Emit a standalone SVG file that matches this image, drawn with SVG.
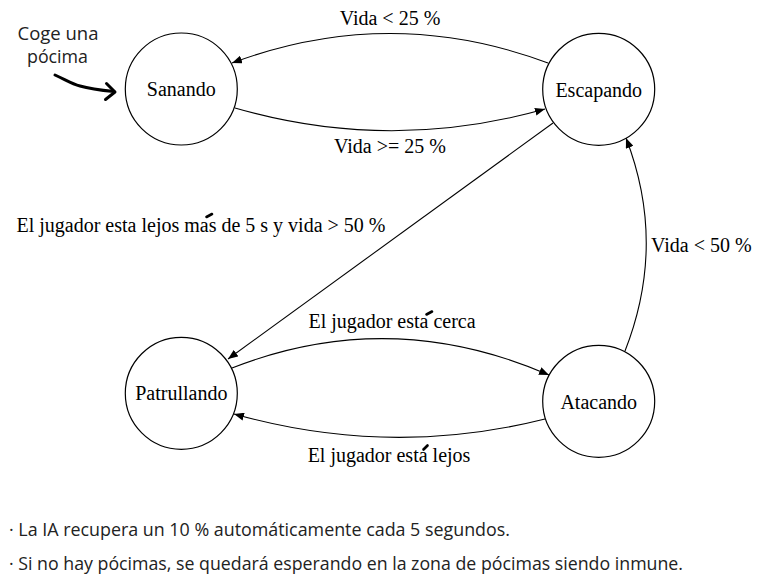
<svg xmlns="http://www.w3.org/2000/svg" width="764" height="583" viewBox="0 0 764 583">
<style>
.node circle{fill:#fff;stroke:#000;stroke-width:1.2}
.lbl{font-family:"Liberation Serif","Times New Roman",serif;font-size:20px;fill:#000}
.edge{fill:none;stroke:#000;stroke-width:1.1}
.note{font-family:"Open Sans","DejaVu Sans",sans-serif;font-size:19px;fill:#222}
.coge{font-family:"Open Sans","DejaVu Sans",sans-serif;font-size:18px;fill:#222}
.acc{stroke:#000;stroke-width:2.6;stroke-linecap:round}
</style>
<defs>
<marker id="ah" markerWidth="10" markerHeight="8" refX="10" refY="4" orient="auto" markerUnits="userSpaceOnUse">
<path d="M0,0 L10,4 L0,8 Z" fill="#000"/>
</marker>
</defs>
<rect width="764" height="583" fill="#fff"/>
<g id="connectors">
<path class="edge" d="M548,63 Q390,4 232,63" marker-end="url(#ah)"/>
<path class="edge" d="M235,108 Q390,153 545,109" marker-end="url(#ah)"/>
<path class="edge" d="M553,123 L228,359" marker-end="url(#ah)"/>
<path class="edge" d="M232,368 Q390,306 549,375" marker-end="url(#ah)"/>
<path class="edge" d="M545,419 Q390,458 234,414" marker-end="url(#ah)"/>
<path class="edge" d="M625,351 Q667,244 626,138" marker-end="url(#ah)"/>
<text class="lbl" x="390" y="25" text-anchor="middle">Vida &lt; 25 %</text>
<text class="lbl" x="390" y="153" text-anchor="middle">Vida &gt;= 25 %</text>
<text class="lbl" x="201" y="232" text-anchor="middle">El jugador esta lejos mas de 5 s y vida &gt; 50 %</text>
<line class="acc" x1="206.5" y1="217" x2="212" y2="214"/>
<text class="lbl" x="392" y="328" text-anchor="middle">El jugador esta cerca</text>
<line class="acc" x1="426.5" y1="314.5" x2="432" y2="311.5"/>
<text class="lbl" x="389" y="462" text-anchor="middle">El jugador esta lejos</text>
<line class="acc" x1="423.5" y1="449.5" x2="427.5" y2="445.5"/>
<text class="lbl" x="651" y="252">Vida &lt; 50 %</text>
</g>
<g id="sanando" class="node"><circle cx="181.3" cy="89" r="56"/><text class="lbl" x="181.3" y="96" text-anchor="middle">Sanando</text></g>
<g id="escapando" class="node"><circle cx="598.7" cy="89.3" r="56"/><text class="lbl" x="598.7" y="96.5" text-anchor="middle">Escapando</text></g>
<g id="patrullando" class="node"><circle cx="181.3" cy="393.3" r="56"/><text class="lbl" x="181.3" y="400" text-anchor="middle">Patrullando</text></g>
<g id="atacando" class="node"><circle cx="598.7" cy="401.3" r="56"/><text class="lbl" x="598.7" y="408.5" text-anchor="middle">Atacando</text></g>
<g id="start">
<text class="coge" x="58" y="40" text-anchor="middle" textLength="81" lengthAdjust="spacingAndGlyphs">Coge una</text>
<text class="coge" x="57.5" y="63" text-anchor="middle" textLength="61" lengthAdjust="spacingAndGlyphs">pócima</text>
<path d="M55,75 C66,80 72,84 80,86 C90,89 98,90 114,91.5" fill="none" stroke="#000" stroke-width="3" stroke-linecap="round"/>
<path d="M106.5,83.5 L115,92 L105.5,99.5" fill="none" stroke="#000" stroke-width="3" stroke-linecap="round" stroke-linejoin="round"/>
</g>
<g id="notes">
<text class="note" x="9" y="536" textLength="501" lengthAdjust="spacingAndGlyphs">· La IA recupera un 10 % automáticamente cada 5 segundos.</text>
<text class="note" x="9" y="570" textLength="674" lengthAdjust="spacingAndGlyphs">· Si no hay pócimas, se quedará esperando en la zona de pócimas siendo inmune.</text>
</g>
</svg>
